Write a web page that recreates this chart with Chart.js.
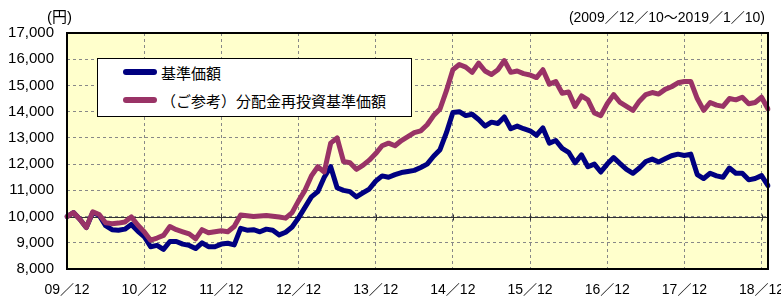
<!DOCTYPE html>
<html>
<head>
<meta charset="utf-8">
<script src="https://cdn.jsdelivr.net/npm/chart.js@4.4.0/dist/chart.umd.min.js"></script>
<style>
    body { margin: 0; background: #fff; }
    #wrap { position: relative; width: 781px; height: 296px; font-family: 'Liberation Sans', 'Noto Sans CJK JP', sans-serif; color: #000; }
    #chart { position: absolute; left: 0; top: 0; }
    .note { position: absolute; font-size: 14px; line-height: 14px; white-space: nowrap; }
    #legend { position: absolute; left: 97px; top: 58px; width: 313px; height: 57px; background: #fff; border: 1px solid #000; }
    .lg-row { position: absolute; left: 25px; height: 20px; display: flex; align-items: center; font-size: 15px; font-family: 'Noto Sans CJK JP', sans-serif; white-space: nowrap; }
    .lg-line { width: 34px; height: 6px; border-radius: 3px; margin-right: 4px; }
</style>
</head>
<body>
<div id="wrap">
    <canvas id="chart" width="781" height="296"></canvas>
    <div class="note" style="left:47px;top:10px;font-size:15px;">(円)</div>
    <div class="note" style="right:16px;top:10px;">(2009／12／10〜2019／1／10)</div>
    <div id="legend">
        <div class="lg-row" style="top:3px;"><span class="lg-line" style="background:#000080"></span>基準価額</div>
        <div class="lg-row" style="top:31px;"><span class="lg-line" style="background:#993366"></span>（ご参考）分配金再投資基準価額</div>
    </div>
</div>
<script>
/* ── Data (monthly, 2009/12 – 2019/1) ── */
const startYear  = 2009;
const startMonth = 12;
const pointCount = 110;

const months = [];
for (let i = 0; i < pointCount; i++) {
    const m = (startMonth - 1 + i) % 12 + 1;
    const y = startYear + Math.floor((startMonth - 1 + i) / 12);
    months.push(String(y % 100).padStart(2, '0') + '/' + String(m).padStart(2, '0'));
}

const navValues = [
    10000, 10150, 9900, 9580, 10150, 10050, 9650, 9500, 9480, 9520, 9700, 9450,
    9240, 8850, 8900, 8750, 9050, 9050, 8950, 8900, 8780, 9000, 8850, 8850,
    8950, 8980, 8920, 9550, 9480, 9500, 9420, 9520, 9480, 9300, 9400, 9600,
    9950, 10350, 10750, 10950, 11500, 11900, 11100, 11000, 10950, 10750, 10900, 11050,
    11350, 11550, 11500, 11600, 11680, 11720, 11760, 11870, 12000, 12300, 12550, 13200,
    13970, 14000, 13850, 13900, 13700, 13450, 13600, 13550, 13800, 13350, 13450, 13350,
    13270, 13100, 13380, 12800, 12900, 12600, 12450, 12050, 12350, 11900, 12000, 11700,
    12000, 12250, 12020, 11800, 11650, 11850, 12100, 12190, 12080, 12200, 12320, 12380,
    12330, 12380, 11600, 11450, 11650, 11550, 11500, 11850, 11650, 11650, 11400, 11450,
    11560, 11180
];

const reinvestValues = [
    10000, 10150, 9900, 9580, 10180, 10080, 9760, 9730, 9750, 9790, 9990, 9680,
    9420, 9100, 9180, 9280, 9620, 9500, 9420, 9340, 9150, 9500, 9380, 9420,
    9460, 9420, 9620, 10060, 10030, 10000, 10020, 10040, 10010, 9980, 9940, 10150,
    10600, 11000, 11550, 11900, 11700, 12800, 13000, 12100, 12050, 11800, 11950, 12150,
    12400, 12700, 12800, 12700, 12900, 13050, 13200, 13270, 13500, 13850, 14100, 14800,
    15600, 15800, 15700, 15500, 15850, 15550, 15420, 15600, 15950, 15500, 15550, 15450,
    15400, 15300, 15600, 15050, 15150, 14700, 14750, 14200, 14600, 14450, 13950, 13850,
    14300, 14650, 14350, 14200, 14050, 14400, 14650, 14730, 14670, 14850, 14950, 15100,
    15150, 15150, 14500, 14050, 14350, 14250, 14200, 14500, 14450, 14550, 14300, 14350,
    14550, 14100
];

const yMin = 8000, yMax = 17000, yStep = 1000;
const baseLine = 10000;

/* ── Plugins ── */
const plotFrame = {
    id: 'plotFrame',
    beforeDraw(chart) {
        const { ctx, chartArea: a } = chart;
        ctx.save();
        ctx.fillStyle = '#FFFFCC';
        ctx.fillRect(a.left, a.top, a.right - a.left, a.bottom - a.top);
        ctx.restore();
    },
    beforeDatasetsDraw(chart) {
        const { ctx, chartArea: a, scales } = chart;
        const y = Math.round(scales.y.getPixelForValue(baseLine)) + 0.5;
        ctx.save();
        ctx.strokeStyle = '#333';
        ctx.lineWidth = 1;
        ctx.beginPath();
        ctx.moveTo(a.left, y); ctx.lineTo(a.right, y);
        months.forEach((lbl, i) => {
            if (!lbl.endsWith('/12')) return;
            const x = Math.round(scales.x.getPixelForValue(i)) + 0.5;
            ctx.moveTo(x, y - 3); ctx.lineTo(x, y + 3);
        });
        ctx.stroke();
        ctx.restore();
    },
    afterDatasetsDraw(chart) {
        const { ctx, chartArea: a } = chart;
        ctx.save();
        ctx.strokeStyle = '#000';
        ctx.lineWidth = 2;
        ctx.strokeRect(a.left, a.top, a.right - a.left, a.bottom - a.top);
        ctx.restore();
    }
};

const font14 = { family: "'Liberation Sans', 'Noto Sans CJK JP', sans-serif", size: 14 };
const font15 = { family: "'Liberation Sans', 'Noto Sans CJK JP', sans-serif", size: 15 };

new Chart(document.getElementById('chart'), {
    type: 'line',
    data: {
        labels: months,
        datasets: [
            {
                label: '基準価額', data: navValues, order: 1,
                borderColor: '#000080', borderWidth: 5, pointRadius: 0, tension: 0,
                borderJoinStyle: 'round', borderCapStyle: 'round'
            },
            {
                label: '（ご参考）分配金再投資基準価額', data: reinvestValues, order: 0,
                borderColor: '#993366', borderWidth: 5, pointRadius: 0, tension: 0,
                borderJoinStyle: 'round', borderCapStyle: 'round'
            }
        ]
    },
    options: {
        responsive: false, animation: false,
        layout: { padding: { left: 0, right: 13, top: 33, bottom: 0 } },
        plugins: { legend: { display: false }, tooltip: { enabled: false } },
        scales: {
            x: {
                offset: false,
                grid: { color: '#888', tickLength: 0, drawTicks: false },
                border: { display: false, dash: [3, 3] },
                ticks: {
                    autoSkip: false, maxRotation: 0, padding: 13, color: '#000', font: font14,
                    callback: (v, i) => months[i].endsWith('/12') ? months[i].replace('/', '／') : null
                },
                afterFit: s => { s.height = 27; s.paddingLeft = 0; s.paddingRight = 0; }
            },
            y: {
                min: yMin, max: yMax,
                grid: { color: '#888', tickLength: 0, drawTicks: false },
                border: { display: false, dash: [3, 3] },
                ticks: {
                    stepSize: yStep, padding: 13, color: '#000', font: font15,
                    callback: v => v.toLocaleString('en-US')
                },
                afterFit: s => { s.width = 67; }
            }
        }
    },
    plugins: [plotFrame]
});
</script>
</body>
</html>
